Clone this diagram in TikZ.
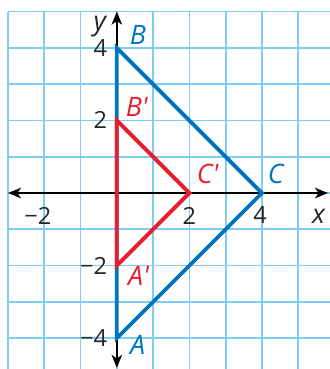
\documentclass[tikz,border=0pt]{standalone}
\usepackage{fontspec}
\setmainfont{Open Sans}
\usetikzlibrary{arrows.meta}
\definecolor{gridc}{RGB}{125,205,245}
\definecolor{blu}{RGB}{0,116,190}
\definecolor{rd}{RGB}{232,30,48}
\begin{document}
\begin{tikzpicture}[
  gridline/.style={gridc, line width=1.4pt},
  axisline/.style={black, line width=1.2pt,
    {Stealth[length=3.6mm,width=2.9mm,inset=1mm]}-{Stealth[length=3.6mm,width=2.9mm,inset=1mm]}},
  tri/.style={line width=3pt, line join=miter},
  ticklab/.style={font=\fontsize{18.5}{18.5}\selectfont, inner sep=0pt, text=black!85},
  ptlab/.style={font=\fontsize{21}{21}\selectfont\itshape, inner sep=0pt},
]
\useasboundingbox (-3.22,-4.85) rectangle (5.87,5.32);
\clip (-3.22,-4.85) rectangle (5.87,5.32);
% grid
\foreach \x in {-3,...,5} \draw[gridline] (\x,-5) -- (\x,5);
\foreach \y in {-4,...,5} \draw[gridline] (-3,\y) -- (6,\y);
% axes
\coordinate (xl) at (-3,0);
\coordinate (xr) at (5.82,0);
\coordinate (yb) at (0,-4.82);
\coordinate (yt) at (0,5);
\draw[axisline] (xl) -- (xr);
\draw[axisline] (yb) -- (yt);
% triangles
\coordinate (A) at (0,-4);
\coordinate (B) at (0,4);
\coordinate (C) at (4,0);
\coordinate (A1) at (0,-2);
\coordinate (B1) at (0,2);
\coordinate (C1) at (2,0);
\draw[tri, blu] (A) -- (B) -- (C) -- cycle;
\draw[tri, rd] (A1) -- (B1) -- (C1) -- cycle;
% tick labels
\node[ticklab, anchor=east] (t-2x) at (-1.8,-0.62) {−2};
\node[ticklab] (t2x) at (2,-0.62) {2};
\node[ticklab] (t4x) at (3.95,-0.62) {4};
\node[ticklab, anchor=east] (t4y) at (-0.26,4) {4};
\node[ticklab, anchor=east] (t2y) at (-0.26,2) {2};
\node[ticklab, anchor=east] (t-2y) at (-0.26,-2) {−2};
\node[ticklab, anchor=east] (t-4y) at (-0.26,-4) {−4};
\node[ptlab, text=black!85] (xlab) at (5.56,-0.64) {x};
\node[ptlab, text=black!85] (ylab) at (-0.47,4.6) {y};
% point labels
\node[ptlab, text=blu] (lB) at (0.58,4.35) {B};
\node[ptlab, text=rd] (lB1) at (0.55,2.37) {B\textquotesingle};
\node[ptlab, text=rd] (lC1) at (2.5,0.52) {C\textquotesingle};
\node[ptlab, text=blu] (lC) at (4.38,0.52) {C};
\node[ptlab, text=rd] (lA1) at (0.6,-2.29) {A\textquotesingle};
\node[ptlab, text=blu] (lA) at (0.57,-4.2) {A};
\end{tikzpicture}
\end{document}
